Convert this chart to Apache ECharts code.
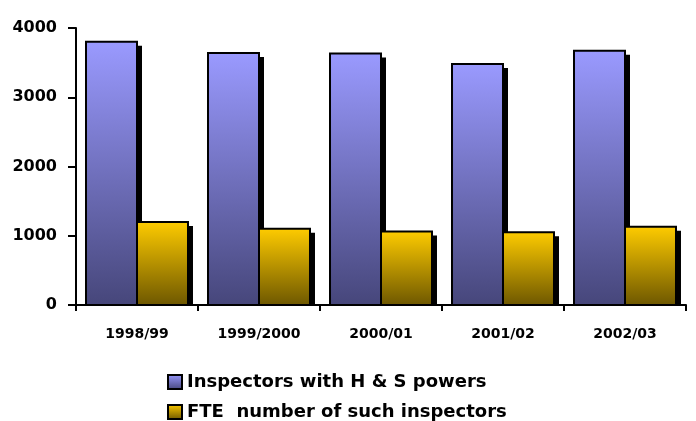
<!DOCTYPE html>
<html>
<head>
<meta charset="utf-8">
<script src="https://cdn.jsdelivr.net/npm/echarts@6/dist/echarts.min.js"></script>
<style>
  html, body { margin: 0; padding: 0; background: #fff; }
  #chart { width: 696px; height: 421px; }
</style>
</head>
<body>
<div id="chart"></div>
<script>
// Inspector counts per reporting year
const years = ['1998/99', '1999/2000', '2000/01', '2001/02', '2002/03'];
const inspectors = [3800, 3640, 3630, 3480, 3670];
const fteInspectors = [1200, 1100, 1060, 1050, 1130];
const seriesNames = ['Inspectors with H & S powers', 'FTE  number of such inspectors'];
const yTicks = [0, 1000, 2000, 3000, 4000];

const FONT = 'DejaVu Sans';
const GAP_RATIO = 0.164;   // free space inside each category band
const SHADOW_DX = 5, SHADOW_DY = 4;

function vGrad(top, bottom) {
  return new echarts.graphic.LinearGradient(0, 0, 0, 1, [
    { offset: 0, color: top },
    { offset: 1, color: bottom }
  ]);
}

const fills = [
  () => vGrad('#9a9aff', '#46467a'),
  () => vGrad('#ffcc00', '#6c5600')
];

// Bar with a hard black drop shadow; slot 0 is the left bar of the pair, slot 1 the right.
function makeRenderer(slot) {
  return function (params, api) {
    const cat = api.value(0);
    const val = api.value(1);
    const base = api.coord([cat, 0]);
    const top = api.coord([cat, val]);
    const band = api.size([1, 0])[0];
    const gap = band * GAP_RATIO;
    const w = (band - gap) / 2;
    const x0 = base[0] - band / 2 + gap / 2 + slot * w;
    const h = base[1] - top[1];
    return {
      type: 'group',
      children: [
        {
          type: 'rect',
          shape: { x: x0 + SHADOW_DX, y: top[1] + SHADOW_DY, width: w, height: Math.max(0, h - SHADOW_DY) },
          style: { fill: '#000' }
        },
        {
          type: 'rect',
          shape: { x: x0, y: top[1], width: w, height: h },
          style: { fill: fills[slot](), stroke: '#000', lineWidth: 2 }
        }
      ]
    };
  };
}

const legendBase = {
  orient: 'vertical',
  left: 167,
  padding: 0,
  itemWidth: 14,
  itemHeight: 14,
  textStyle: { fontFamily: FONT, fontWeight: 'bold', fontSize: 18, color: '#000' }
};

const chart = echarts.init(document.getElementById('chart'), null, { renderer: 'canvas' });

chart.setOption({
  animation: false,
  backgroundColor: '#fff',
  grid: { left: 76, right: 10, top: 28, bottom: 116, containLabel: false },
  legend: [
    Object.assign({}, legendBase, {
      top: 373,
      data: [{ name: seriesNames[0], icon: 'rect', itemStyle: { color: fills[0](), borderColor: '#000', borderWidth: 2 } }]
    }),
    Object.assign({}, legendBase, {
      top: 403,
      data: [{ name: seriesNames[1], icon: 'rect', itemStyle: { color: fills[1](), borderColor: '#000', borderWidth: 2 } }]
    })
  ],
  xAxis: {
    type: 'category',
    data: years,
    z: 20,
    axisLine: { lineStyle: { color: '#000', width: 2 } },
    axisTick: { show: true, alignWithLabel: false, length: 6, lineStyle: { color: '#000', width: 2 } },
    axisLabel: { fontFamily: FONT, fontWeight: 'bold', fontSize: 14, color: '#000', margin: 22 }
  },
  yAxis: {
    type: 'value',
    min: yTicks[0],
    max: yTicks[yTicks.length - 1],
    interval: 1000,
    z: 20,
    splitLine: { show: false },
    axisLine: { show: true, lineStyle: { color: '#000', width: 2 } },
    axisTick: { show: true, length: 8, lineStyle: { color: '#000', width: 2 } },
    axisLabel: {
      fontFamily: FONT, fontWeight: 'bold', fontSize: 16, color: '#000', margin: 19,
      formatter: (v) => String(v)
    }
  },
  series: [
    {
      name: seriesNames[0],
      type: 'custom',
      renderItem: makeRenderer(0),
      encode: { x: 0, y: 1 },
      itemStyle: { color: '#8080e0', borderColor: '#000', borderWidth: 2 },
      data: inspectors.map((v, i) => [i, v])
    },
    {
      name: seriesNames[1],
      type: 'custom',
      renderItem: makeRenderer(1),
      encode: { x: 0, y: 1 },
      itemStyle: { color: '#d8ac00', borderColor: '#000', borderWidth: 2 },
      data: fteInspectors.map((v, i) => [i, v])
    }
  ]
});
</script>
</body>
</html>
